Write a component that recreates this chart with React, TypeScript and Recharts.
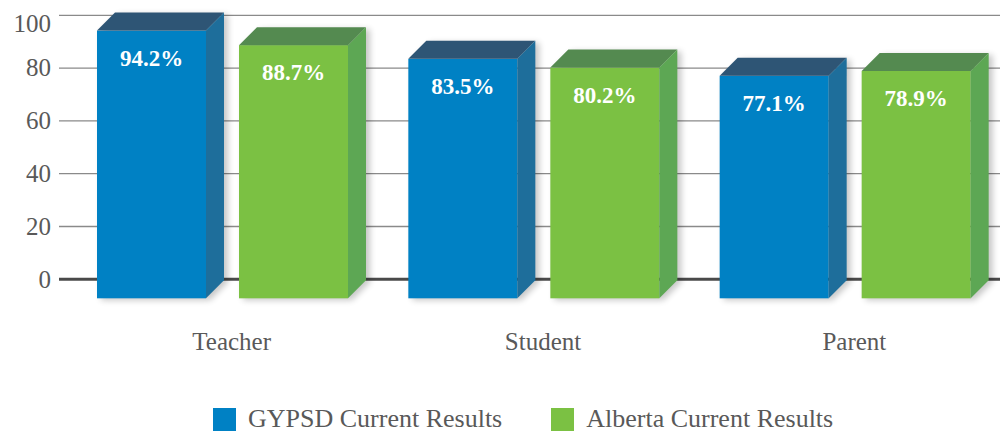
import React from 'react';
import { BarChart, Bar, XAxis, YAxis, CartesianGrid, Legend, LabelList } from 'recharts';

const categories = ['Teacher', 'Student', 'Parent'];
const gypsdValues = [94.2, 83.5, 77.1];
const albertaValues = [88.7, 80.2, 78.9];
const yTicks = [0, 20, 40, 60, 80, 100];
const seriesNames = ['GYPSD Current Results', 'Alberta Current Results'];

const data = categories.map((c, i) => ({ category: c, gypsd: gypsdValues[i], alberta: albertaValues[i] }));

const FONT = '"Liberation Serif", "DejaVu Serif", serif';
const TEXT = '#595959';
const DEPTH = 18;
const DROP = 19;

const palette = {
  gypsd: { front: '#0081C4', side: '#1E6E9B', top: '#2E5575' },
  alberta: { front: '#7BC143', side: '#5DA754', top: '#548A50' },
};

function make3DShape(colors: { front: string; side: string; top: string }) {
  return (props: any) => {
    const { x, y, width, height } = props;
    const fx = x - DEPTH / 2;
    const top = y;
    const bottom = y + height + DROP;
    const right = fx + width;
    const silhouette = `${fx},${bottom} ${fx},${top} ${fx + DEPTH},${top - DEPTH} ${right + DEPTH},${top - DEPTH} ${right + DEPTH},${bottom - DEPTH} ${right},${bottom}`;
    return (
      <g>
        <defs>
          <filter id="barShadowBlur" x="-20%" y="-20%" width="140%" height="140%">
            <feGaussianBlur stdDeviation="3" />
          </filter>
        </defs>
        <polygon points={silhouette} fill="#000" opacity={0.22} transform="translate(4,2)" filter="url(#barShadowBlur)" />
        <rect x={fx} y={top} width={width} height={bottom - top} fill={colors.front} />
        <polygon points={`${fx},${top} ${fx + DEPTH},${top - DEPTH} ${right + DEPTH},${top - DEPTH} ${right},${top}`} fill={colors.top} />
        <polygon points={`${right},${top} ${right + DEPTH},${top - DEPTH} ${right + DEPTH},${bottom - DEPTH} ${right},${bottom}`} fill={colors.side} />
      </g>
    );
  };
}

const renderValueLabel = (props: any) => {
  const { x, y, width, value } = props;
  return (
    <text
      x={x - DEPTH / 2 + width / 2}
      y={y + 35}
      textAnchor="middle"
      fill="#ffffff"
      fontWeight="bold"
      fontSize={23}
      fontFamily={FONT}
    >
      {`${Number(value).toFixed(1)}%`}
    </text>
  );
};

const YTick = (props: any) => {
  const { x, y, payload } = props;
  const shift = payload.value === 100 ? 8 : 0;
  return (
    <text x={x} y={y + shift} dy="0.33em" textAnchor="end" fill={TEXT} fontSize={25} fontFamily={FONT}>
      {payload.value}
    </text>
  );
};

const XTick = (props: any) => {
  const { x, y, payload } = props;
  return (
    <text x={x} y={y} dy="0.71em" textAnchor="middle" fill={TEXT} fontSize={25} fontFamily={FONT}>
      {payload.value}
    </text>
  );
};

const gridLine = (p: any) => {
  const isBase = Math.abs(p.y1 - (p.y + p.height)) < 1;
  return (
    <line
      key={p.key}
      x1={p.x1}
      y1={p.y1}
      x2={p.x2}
      y2={p.y2}
      stroke={isBase ? '#4a4a4a' : '#8a8a8a'}
      strokeWidth={isBase ? 3 : 1.3}
    />
  );
};

const LegendContent = (props: any) => {
  const payload = [...(props.payload || [])].sort(
    (a: any, b: any) => seriesNames.indexOf(a.value) - seriesNames.indexOf(b.value)
  );
  return (
    <div style={{ display: 'flex', alignItems: 'flex-start', fontFamily: FONT, fontSize: 26, color: TEXT, height: 26 }}>
      {payload.map((entry: any, i: number) => (
        <div key={entry.value} style={{ display: 'flex', alignItems: 'flex-start', marginRight: i === 0 ? 49 : 0 }}>
          <div style={{ width: 23, height: 23, background: entry.color, flex: 'none', marginTop: 2 }} />
          <div style={{ marginLeft: 12, lineHeight: '26px', height: 26, whiteSpace: 'nowrap' }}>
            {entry.value}
          </div>
        </div>
      ))}
    </div>
  );
};

export default function App() {
  return (
    <div style={{ position: 'absolute', left: 0, top: 0, width: 1000, height: 435, overflow: 'hidden', background: '#fff' }}>
      <BarChart
        width={1030}
        height={435}
        data={data}
        margin={{ top: 15.3, right: 0, left: 0, bottom: 69.7 }}
        barSize={109}
        barGap={33}
      >
        <CartesianGrid vertical={false} horizontal={gridLine} />
        <XAxis
          dataKey="category"
          height={60}
          padding={{ left: 17, right: 20 }}
          axisLine={false}
          tickLine={false}
          tickMargin={47}
          tick={<XTick />}
          interval={0}
        />
        <YAxis
          width={59}
          domain={[0, 100]}
          ticks={yTicks}
          axisLine={false}
          tickLine={false}
          tick={<YTick />}
          interval={0}
        />
        <Legend
          content={<LegendContent />}
          wrapperStyle={{ left: 213, top: 406, width: 700, height: 26 }}
        />
        <Bar
          dataKey="gypsd"
          name={seriesNames[0]}
          fill={palette.gypsd.front}
          shape={make3DShape(palette.gypsd)}
          isAnimationActive={false}
        >
          <LabelList dataKey="gypsd" content={renderValueLabel} />
        </Bar>
        <Bar
          dataKey="alberta"
          name={seriesNames[1]}
          fill={palette.alberta.front}
          shape={make3DShape(palette.alberta)}
          isAnimationActive={false}
        >
          <LabelList dataKey="alberta" content={renderValueLabel} />
        </Bar>
      </BarChart>
    </div>
  );
}
